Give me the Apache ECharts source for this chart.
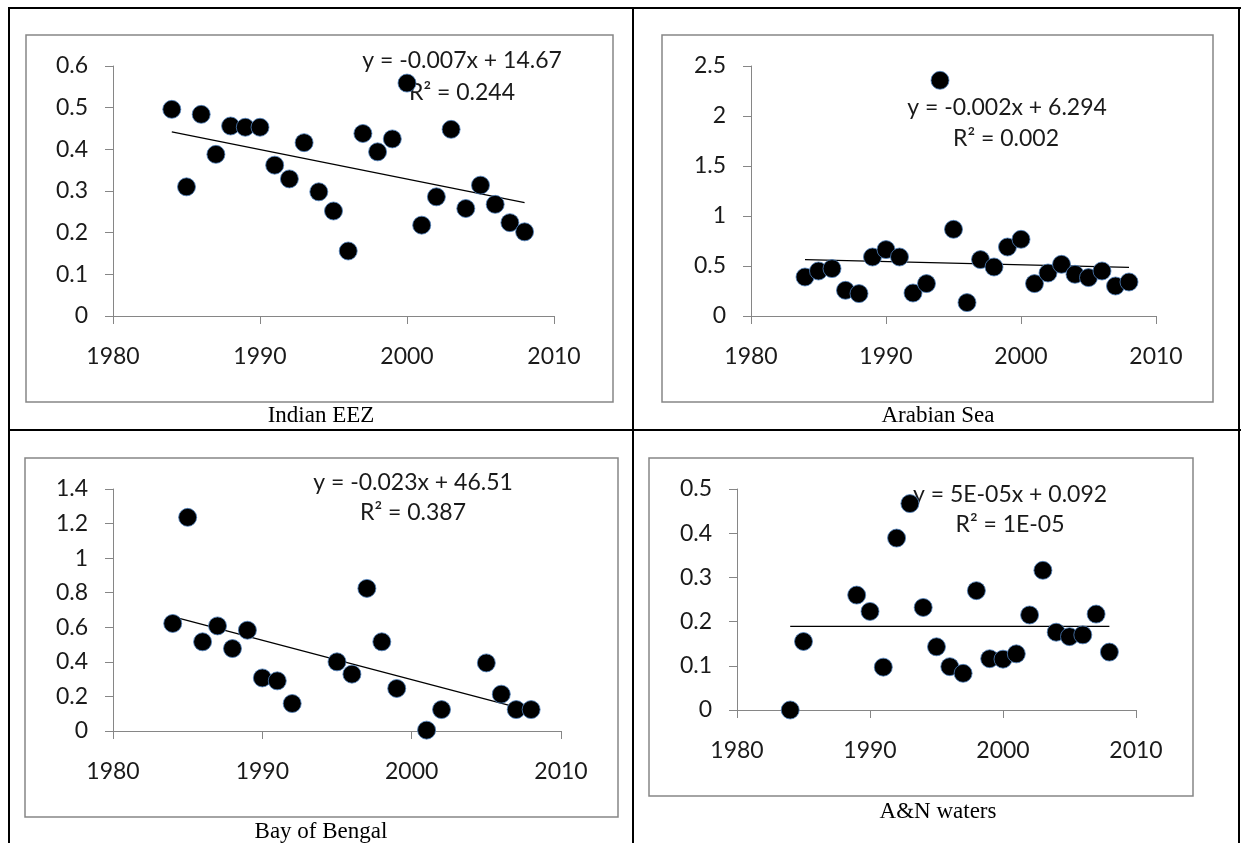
<!DOCTYPE html>
<html>
<head>
<meta charset="utf-8">
<script src="https://cdn.jsdelivr.net/npm/echarts@6/dist/echarts.min.js"></script>
<style>
html,body{margin:0;padding:0;background:#fff;}
#c{width:1241px;height:843px;}
</style>
</head>
<body>
<div id="c"></div>
<script>
// ---- Data ----
const yearsEEZ = [1984,1985,1986,1987,1988,1989,1990,1991,1992,1993,1994,1995,1996,1997,1998,1999,2000,2001,2002,2003,2004,2005,2006,2007,2008];
const valuesEEZ = [0.496,0.310,0.484,0.388,0.456,0.453,0.453,0.362,0.329,0.416,0.298,0.252,0.156,0.438,0.394,0.425,0.559,0.218,0.286,0.448,0.258,0.314,0.268,0.224,0.202];
const trendEEZ = [0.442, 0.272];

const yearsArabian = [1984,1985,1986,1987,1988,1989,1990,1991,1992,1993,1994,1995,1996,1997,1998,1999,2000,2001,2002,2003,2004,2005,2006,2007,2008];
const valuesArabian = [0.39,0.45,0.474,0.257,0.224,0.59,0.664,0.59,0.23,0.324,2.357,0.867,0.134,0.564,0.49,0.69,0.767,0.324,0.43,0.517,0.417,0.384,0.45,0.30,0.34];
const trendArabian = [0.564, 0.487];

const yearsBengal = [1984,1985,1986,1987,1988,1989,1990,1991,1992,1995,1996,1997,1998,1999,2001,2002,2005,2006,2007,2008];
const valuesBengal = [0.622,1.236,0.516,0.608,0.477,0.583,0.307,0.29,0.159,0.40,0.329,0.825,0.516,0.246,0.005,0.124,0.394,0.213,0.124,0.124];
const trendBengal = [0.662, 0.115];

const yearsAN = [1984,1985,1989,1990,1991,1992,1993,1994,1995,1996,1997,1998,1999,2000,2001,2002,2003,2004,2005,2006,2007,2008];
const valuesAN = [0.0,0.155,0.26,0.223,0.097,0.389,0.467,0.232,0.143,0.098,0.083,0.27,0.116,0.115,0.127,0.215,0.316,0.176,0.166,0.17,0.217,0.131];
const trendAN = [0.189, 0.189];

const trendYears = [1984, 2008];

const captions = ['Indian EEZ', 'Arabian Sea', 'Bay of Bengal', 'A&N waters'];
const equations = ['y = -0.007x + 14.67', 'y = -0.002x + 6.294', 'y = -0.023x + 46.51', 'y = 5E-05x + 0.092'];
const rsquared = ['R\u00b2 = 0.244', 'R\u00b2 = 0.002', 'R\u00b2 = 0.387', 'R\u00b2 = 1E-05'];

const yMax = [0.6, 2.5, 1.4, 0.5];
const yStep = [0.1, 0.5, 0.2, 0.1];
const xTicks = [1980, 1990, 2000, 2010];

// ---- Layout ----
const grids = [
  {left:113, top:66, width:441, height:250},
  {left:751, top:66, width:405, height:250},
  {left:113, top:489, width:448, height:242},
  {left:737, top:489, width:399, height:221}
];
const frames = [
  {x:26, y:35, w:587, h:367},
  {x:662, y:35, w:551, h:367},
  {x:25, y:458, w:593, h:359},
  {x:649, y:458, w:544, h:338}
];
const capPos = [[321,416],[938,416],[321,832],[938,812]];
const eqPos = [[462,61],[1007,108],[413,483],[1010,495]];
const r2Pos = [[462,93],[1006,139],[413,513],[1010,525]];

const FONT = 'Lato';
const sets = [
  [yearsEEZ, valuesEEZ, trendEEZ],
  [yearsArabian, valuesArabian, trendArabian],
  [yearsBengal, valuesBengal, trendBengal],
  [yearsAN, valuesAN, trendAN]
];

const axisLineStyle = {color:'#868686', width:1};
const xAxes = [], yAxes = [], series = [];
grids.forEach((g, i) => {
  xAxes.push({
    type:'value', gridIndex:i, min:xTicks[0], max:xTicks[xTicks.length-1], interval:10,
    axisLine:{show:true, onZero:false, lineStyle:axisLineStyle},
    axisTick:{show:true, inside:false, length:8, lineStyle:axisLineStyle},
    axisLabel:{margin:29, fontFamily:FONT, fontSize:23, color:'#1a1a1a', formatter:v => String(v)},
    splitLine:{show:false}
  });
  yAxes.push({
    type:'value', gridIndex:i, min:0, max:yMax[i], interval:yStep[i],
    axisLine:{show:true, lineStyle:axisLineStyle},
    axisTick:{show:true, inside:false, length:8, lineStyle:axisLineStyle},
    axisLabel:{margin:25, fontFamily:FONT, fontSize:23, color:'#1a1a1a', formatter:v => String(+v.toFixed(2))},
    splitLine:{show:false}
  });
  const [yrs, vals, tr] = sets[i];
  series.push({
    type:'line', xAxisIndex:i, yAxisIndex:i, z:1,
    data: trendYears.map((y, k) => [y, tr[k]]),
    showSymbol:false, symbol:'none', silent:true,
    lineStyle:{color:'#000', width:1.2}
  });
  series.push({
    type:'scatter', xAxisIndex:i, yAxisIndex:i, z:3,
    data: yrs.map((y, k) => [y, vals[k]]),
    symbol:'circle', symbolSize:18,
    itemStyle:{color:'#000', opacity:1, borderColor:'rgba(79,129,189,0.8)', borderWidth:1}
  });
});

const graphic = [];
// table borders
const tableLines = [
  [8,8,1241,8],[8,430,1241,430],[9,8,9,843],[633,8,633,843],[1239,8,1239,843]
];
tableLines.forEach(l => graphic.push({
  type:'line', shape:{x1:l[0], y1:l[1], x2:l[2], y2:l[3]},
  style:{stroke:'#000', lineWidth:2}, z:0
}));
frames.forEach(f => graphic.push({
  type:'rect', shape:{x:f.x, y:f.y, width:f.w, height:f.h},
  style:{stroke:'#868686', lineWidth:1.5, fill:null}, z:0
}));
captions.forEach((c, i) => graphic.push({
  type:'text', x:capPos[i][0], y:capPos[i][1],
  style:{text:c, font:'23px "Liberation Serif"', fill:'#000', align:'center', verticalAlign:'middle'}, z:0
}));
equations.forEach((t, i) => {
  graphic.push({
    type:'text', x:eqPos[i][0], y:eqPos[i][1],
    style:{text:t, font:'23px ' + FONT, fill:'#1a1a1a', align:'center', verticalAlign:'middle'}, z:0
  });
  graphic.push({
    type:'text', x:r2Pos[i][0], y:r2Pos[i][1],
    style:{text:rsquared[i], font:'23px ' + FONT, fill:'#1a1a1a', align:'center', verticalAlign:'middle'}, z:0
  });
});

const chart = echarts.init(document.getElementById('c'), null, {renderer:'canvas'});
chart.setOption({
  animation:false,
  backgroundColor:'#fff',
  grid: grids.map(g => Object.assign({containLabel:false}, g)),
  xAxis: xAxes,
  yAxis: yAxes,
  series: series,
  graphic: graphic
});
</script>
</body>
</html>
